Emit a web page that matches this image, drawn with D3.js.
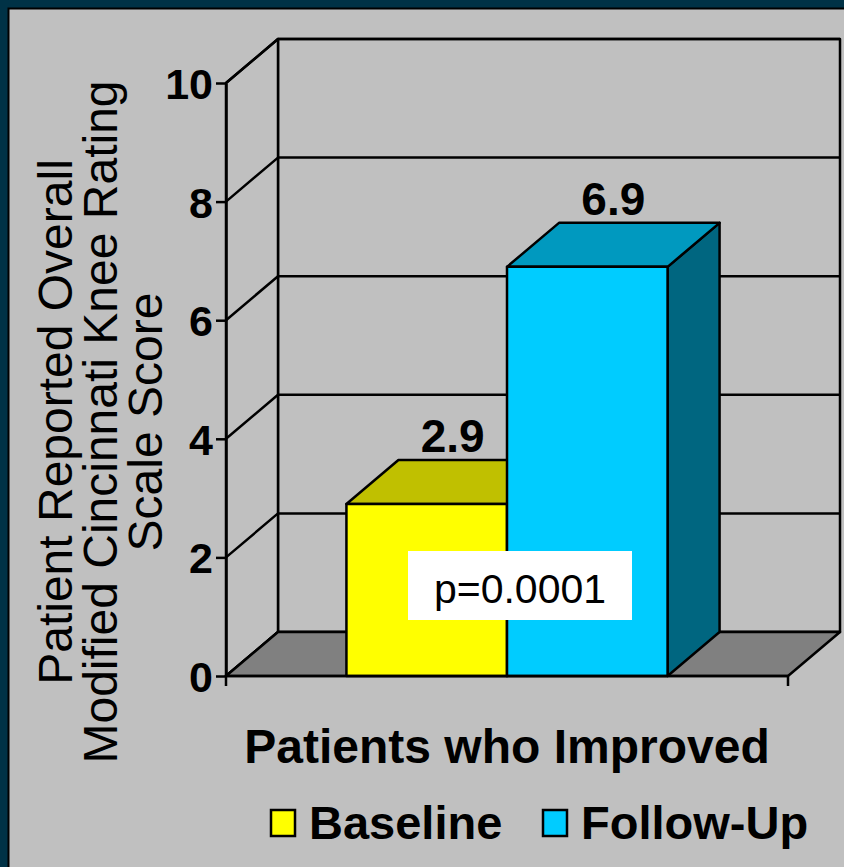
<!DOCTYPE html>
<html>
<head>
<meta charset="utf-8">
<script src="https://cdn.jsdelivr.net/npm/d3@7"></script>
<style>
  html, body { margin: 0; padding: 0; background: #c0c0c0; }
  svg { display: block; font-family: "Liberation Sans", Arial, sans-serif; }
</style>
</head>
<body>
<svg width="844" height="867"></svg>
<script>
const categories = ["Patients who Improved"];
const series = ["Baseline", "Follow-Up"];
const values = [2.9, 6.9];
const yTicks = [0, 2, 4, 6, 8, 10];
const yTitle = ["Patient Reported Overall", "Modified Cincinnati Knee Rating", "Scale Score"];
const pLabel = "p=0.0001";

const colors = {
  "Baseline": { front: "#ffff00", top: "#c0c000", side: "#808000" },
  "Follow-Up": { front: "#00ccff", top: "#0099bf", side: "#006680" }
};

const svg = d3.select("svg");
const W = +svg.attr("width"), H = +svg.attr("height");

// background + frame
svg.append("rect").attr("width", W).attr("height", H).attr("fill", "#c0c0c0");
svg.append("rect").attr("x", 0).attr("y", 0).attr("width", W).attr("height", 8).attr("fill", "#003246");
svg.append("rect").attr("x", 0).attr("y", 0).attr("width", 8).attr("height", H).attr("fill", "#003246");
svg.append("path").attr("d", "M8.5," + H + "V8.5H" + W)
  .attr("fill", "none").attr("stroke", "#000").attr("stroke-width", 2);

// depth offset for 3d
const dx = 52, dy = -44;

const x0 = d3.scaleBand().domain(categories).range([226, 788]);
const x1 = d3.scaleBand().domain(series).range([0, x0.bandwidth()]).paddingInner(0).paddingOuter(0.75);
const y = d3.scaleLinear().domain([0, 10]).range([676, 83]);

const xl = x0.range()[0], xr = x0.range()[1];
const y0 = y(0), yTop = y(10);

const g = svg.append("g").attr("stroke", "#000").attr("stroke-width", 2.5).attr("stroke-linejoin", "round");

// back wall
g.append("rect")
  .attr("x", xl + dx).attr("y", yTop + dy)
  .attr("width", xr - xl).attr("height", y0 - yTop)
  .attr("fill", "#c0c0c0");

// left wall
g.append("path")
  .attr("d", `M${xl},${y0}V${yTop}L${xl + dx},${yTop + dy}V${y0 + dy}Z`)
  .attr("fill", "#c0c0c0");

// grid lines on walls
g.selectAll(".grid")
  .data(yTicks)
  .enter()
  .append("path")
  .attr("class", "grid")
  .attr("fill", "none")
  .attr("d", (d) => `M${xl},${y(d)}L${xl + dx},${y(d) + dy}H${xr + dx}`);

// floor
g.append("path")
  .attr("d", `M${xl},${y0}H${xr}L${xr + dx},${y0 + dy}H${xl + dx}Z`)
  .attr("fill", "#808080");

// bars
const bars = g.selectAll(".bar")
  .data(series.map((s, i) => ({ key: s, value: values[i], cat: categories[0] })))
  .enter()
  .append("g")
  .attr("class", "bar");

bars.append("path")
  .attr("fill", (d) => colors[d.key].side)
  .attr("d", function (d) {
    const xa = x0(d.cat) + x1(d.key) + x1.bandwidth();
    return `M${xa},${y0}V${y(d.value)}L${xa + dx},${y(d.value) + dy}V${y0 + dy}Z`;
  });

bars.append("path")
  .attr("fill", (d) => colors[d.key].top)
  .attr("d", function (d) {
    const xa = x0(d.cat) + x1(d.key), w = x1.bandwidth(), yy = y(d.value);
    return `M${xa},${yy}L${xa + dx},${yy + dy}H${xa + w + dx}L${xa + w},${yy}Z`;
  });

bars.append("rect")
  .attr("fill", (d) => colors[d.key].front)
  .attr("x", (d) => x0(d.cat) + x1(d.key))
  .attr("y", (d) => y(d.value))
  .attr("width", x1.bandwidth())
  .attr("height", (d) => y0 - y(d.value));

// value labels
svg.selectAll(".vlabel")
  .data(series.map((s, i) => ({ key: s, value: values[i], cat: categories[0] })))
  .enter()
  .append("text")
  .attr("class", "vlabel")
  .attr("x", (d) => x0(d.cat) + x1(d.key) + x1.bandwidth() / 2 + dx / 2)
  .attr("y", (d) => y(d.value) + dy - 8)
  .attr("text-anchor", "middle")
  .attr("font-weight", "bold")
  .attr("font-size", 46)
  .text((d) => d.value.toFixed(1));

// front axes
const yAxis = d3.axisLeft(y).tickValues(yTicks).tickSize(10).tickSizeOuter(0).tickPadding(3);
const ya = svg.append("g").attr("transform", `translate(${xl},0)`).call(yAxis);
ya.select(".domain").attr("stroke", "#000").attr("stroke-width", 2.5);
ya.selectAll(".tick line").attr("stroke", "#000").attr("stroke-width", 2.5);
ya.selectAll(".tick text")
  .attr("font-family", "Liberation Sans, Arial, sans-serif")
  .attr("font-weight", "bold")
  .attr("font-size", 43)
  .attr("fill", "#000")
  .attr("dy", "0.36em");

svg.append("path")
  .attr("d", `M${xl},${y0 + 10}V${y0}H${xr}V${y0 + 10}`)
  .attr("fill", "none").attr("stroke", "#000").attr("stroke-width", 2.5);

// p-value box
svg.append("rect")
  .attr("x", 408).attr("y", 551).attr("width", 224).attr("height", 69)
  .attr("fill", "#fff");
svg.append("text")
  .attr("x", 520).attr("y", 603)
  .attr("text-anchor", "middle")
  .attr("font-size", 41)
  .text(pLabel);

// y axis title
const yt = svg.append("text")
  .attr("transform", "translate(0,422) rotate(-90)")
  .attr("text-anchor", "middle")
  .attr("font-size", 48);
yt.selectAll("tspan")
  .data(yTitle)
  .enter()
  .append("tspan")
  .attr("x", 0)
  .attr("y", (d, i) => 72 + i * 45)
  .text((d) => d);

// x axis title
svg.append("text")
  .attr("x", (xl + xr) / 2).attr("y", 763)
  .attr("text-anchor", "middle")
  .attr("font-weight", "bold")
  .attr("font-size", 48)
  .text(categories[0]);

// legend
const legendX = [271, 543];
const leg = svg.selectAll(".leg")
  .data(series)
  .enter()
  .append("g")
  .attr("class", "leg")
  .attr("transform", (d, i) => `translate(${legendX[i]},810)`);
leg.append("rect")
  .attr("width", 24).attr("height", 26)
  .attr("fill", (d) => colors[d].front)
  .attr("stroke", "#000").attr("stroke-width", 2.5);
leg.append("text")
  .attr("x", 38).attr("y", 29)
  .attr("font-weight", "bold")
  .attr("font-size", 47)
  .text((d) => d);
</script>
</body>
</html>
